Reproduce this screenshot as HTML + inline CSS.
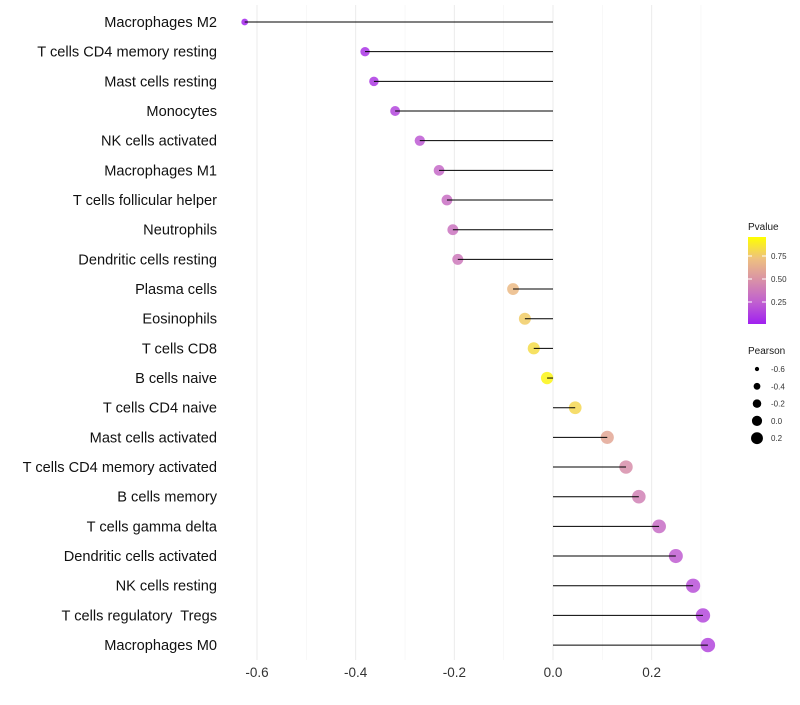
<!DOCTYPE html>
<html><head><meta charset="utf-8"><style>
body{margin:0;background:#fff;font-family:"Liberation Sans",sans-serif}
</style></head><body>
<svg id="c" width="800" height="700" xmlns="http://www.w3.org/2000/svg">
<defs><linearGradient id="g" x1="0" y1="1" x2="0" y2="0">
<stop offset="0" stop-color="#A020F0"/><stop offset="0.25" stop-color="#C060D0"/><stop offset="0.5" stop-color="#D890A8"/><stop offset="0.75" stop-color="#EEC080"/><stop offset="1" stop-color="#FFFF00"/></linearGradient></defs>
<g id="grid"></g><g id="marks"></g><g id="labels"></g><g id="legend"></g>
</svg>
<script>
const cells=["Macrophages M2","T cells CD4 memory resting","Mast cells resting","Monocytes","NK cells activated","Macrophages M1","T cells follicular helper","Neutrophils","Dendritic cells resting","Plasma cells","Eosinophils","T cells CD8","B cells naive","T cells CD4 naive","Mast cells activated","T cells CD4 memory activated","B cells memory","T cells gamma delta","Dendritic cells activated","NK cells resting","T cells regulatory  Tregs","Macrophages M0"];
const pearson=[-0.625,-0.381,-0.363,-0.320,-0.270,-0.231,-0.215,-0.203,-0.193,-0.081,-0.057,-0.039,-0.012,0.045,0.110,0.148,0.174,0.215,0.249,0.284,0.304,0.314];
const pvalue=[0.02,0.08,0.1,0.15,0.23,0.3,0.33,0.35,0.38,0.72,0.8,0.86,0.96,0.84,0.62,0.49,0.42,0.32,0.24,0.19,0.16,0.15];
const xticks=[-0.6,-0.4,-0.2,0.0,0.2];
const xminor=[-0.5,-0.3,-0.1,0.1,0.3];
const NS="http://www.w3.org/2000/svg";
const X=v=>553+v*493.3, Y=i=>22+i*29.67;
function mk(t,a,p){const e=document.createElementNS(NS,t);for(const k in a)e.setAttribute(k,a[k]);p.appendChild(e);return e;}
const stops=[[0,[160,32,240]],[0.25,[192,96,208]],[0.5,[216,144,168]],[0.75,[238,192,128]],[1,[255,255,0]]];
function col(p){for(let i=0;i<4;i++){const a=stops[i],b=stops[i+1];if(p<=b[0]){const t=(p-a[0])/(b[0]-a[0]);return "rgb("+a[1].map((c,j)=>Math.round(c+(b[1][j]-c)*t)).join(",")+")";}}return "rgb(255,255,0)";}
const R=v=>Math.sqrt(Math.max(6,38.5+43.5*v));
const grid=document.getElementById('grid'),marks=document.getElementById('marks'),labels=document.getElementById('labels'),leg=document.getElementById('legend');
xminor.forEach(v=>{const l=mk('line',{x1:X(v),x2:X(v),y1:5,y2:660,stroke:'#f3f3f3','stroke-width':0.6},grid);

});
xticks.forEach(v=>{const l=mk('line',{x1:X(v),x2:X(v),y1:5,y2:660,stroke:'#ebebeb','stroke-width':1},grid);


const t=mk('text',{x:X(v),y:677,'text-anchor':'middle','font-size':13.5,fill:'#333'},labels);t.textContent=v.toFixed(1);

});
cells.forEach((c,i)=>{const y=Y(i);
const d=mk('circle',{cx:X(pearson[i]),cy:y,r:R(pearson[i]),fill:col(pvalue[i]),'fill-opacity':0.85},marks);


const l=mk('line',{x1:X(0),x2:X(pearson[i]),y1:y,y2:y,stroke:'#000','stroke-width':1},marks);


const t=mk('text',{x:217,y:y+5,'text-anchor':'end','font-size':14.6,fill:'#111'},labels);t.textContent=c;
t.setAttribute('xml:space','preserve');t.style.whiteSpace='pre';

});
let t=mk('text',{x:748,y:230,'font-size':10,fill:'#1a1a1a'},leg);t.textContent='Pvalue';

const bar=mk('rect',{x:748,y:237,width:18,height:87,fill:'url(#g)'},leg);

[[0.75,256],[0.50,279],[0.25,302]].forEach(([v,y])=>{mk('line',{x1:748,x2:752,y1:y,y2:y,stroke:'#fff'},leg);mk('line',{x1:762,x2:766,y1:y,y2:y,stroke:'#fff'},leg);
const tt=mk('text',{x:771,y:y+3,'font-size':8,fill:'#333'},leg);tt.textContent=v.toFixed(2);
});
t=mk('text',{x:748,y:354,'font-size':10,fill:'#1a1a1a'},leg);t.textContent='Pearson';

[[-0.6,2.5],[-0.4,4],[-0.2,5],[0.0,6],[0.2,7]].forEach(([v,r],k)=>{const y=369+k*17.3;
const c=mk('circle',{cx:757,cy:y,r:r*0.85,fill:'#000'},leg);

const tt=mk('text',{x:771,y:y+3,'font-size':8,fill:'#333'},leg);tt.textContent=v.toFixed(1);
});
</script>
</body></html>
